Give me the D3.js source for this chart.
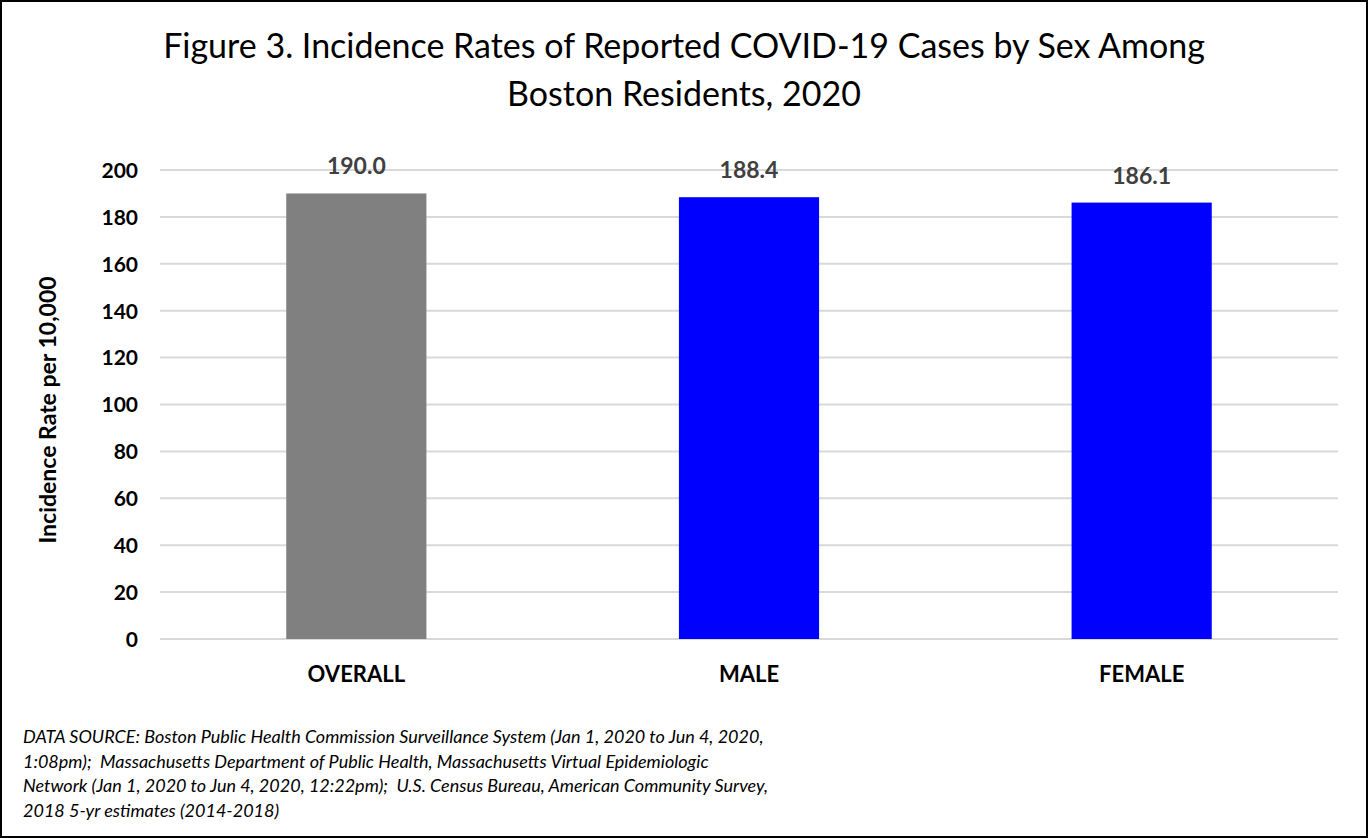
<!DOCTYPE html>
<html>
<head>
<meta charset="utf-8">
<script src="https://cdn.jsdelivr.net/npm/d3@7"></script>
<style>
  body { margin: 0; background: #fff; }
  svg { display: block; font-family: Lato, "Open Sans", sans-serif; }
</style>
</head>
<body>
<div id="chart"></div>
<script>
const width = 1368,
    height = 838;

// data
const categories = ["OVERALL", "MALE", "FEMALE"];
const rates = [190.0, 188.4, 186.1];
const barColors = ["#808080", "#0000ff", "#0000ff"];
const yTicks = [0, 20, 40, 60, 80, 100, 120, 140, 160, 180, 200];
const titleLines = ["Figure 3. Incidence Rates of Reported COVID-19 Cases by Sex Among", "Boston Residents, 2020"];
const sourceLines = [
    "DATA SOURCE: Boston Public Health Commission Surveillance System (Jan 1, 2020 to Jun 4, 2020,",
    "1:08pm);  Massachusetts Department of Public Health, Massachusetts Virtual Epidemiologic",
    "Network (Jan 1, 2020 to Jun 4, 2020, 12:22pm);  U.S. Census Bureau, American Community Survey,",
    "2018 5-yr estimates (2014-2018)"
];

const margin = { top: 170, right: 30, bottom: 199, left: 160 };

const svg = d3.select("#chart")
    .append("svg")
    .attr("width", width)
    .attr("height", height);

// outer frame
svg.append("rect")
    .attr("x", 1).attr("y", 1)
    .attr("width", width - 2).attr("height", height - 2)
    .style("fill", "#fff")
    .style("stroke", "#000")
    .style("stroke-width", 2);

const x = d3.scaleBand()
    .domain(categories)
    .range([margin.left, width - margin.right])
    .paddingInner(0.643)
    .paddingOuter(0.3215);

const y = d3.scaleLinear()
    .domain([0, 200])
    .range([height - margin.bottom, margin.top]);

// gridlines
svg.append("g")
    .selectAll("line")
    .data(yTicks)
    .enter()
    .append("line")
    .attr("x1", margin.left)
    .attr("x2", width - margin.right)
    .attr("y1", d => y(d))
    .attr("y2", d => y(d))
    .style("stroke", "#d9d9d9")
    .style("stroke-width", 2);

// y axis labels
const yAxis = d3.axisLeft(y).tickValues(yTicks).tickSize(0).tickPadding(0);
const yg = svg.append("g")
    .attr("transform", "translate(" + 138 + ",0)")
    .call(yAxis);
yg.select(".domain").remove();
yg.selectAll("text")
    .style("font-family", "Lato, sans-serif")
    .style("font-size", "21px")
    .style("font-weight", "bold")
    .style("fill", "#000")
    .attr("dy", "0.35em");

// bars
svg.append("g")
    .selectAll("rect")
    .data(rates)
    .enter()
    .append("rect")
    .attr("x", (d, i) => x(categories[i]))
    .attr("width", x.bandwidth())
    .attr("y", d => y(d))
    .attr("height", d => y(0) - y(d))
    .style("fill", (d, i) => barColors[i]);

// value labels
svg.append("g")
    .selectAll("text")
    .data(rates)
    .enter()
    .append("text")
    .attr("x", (d, i) => x(categories[i]) + x.bandwidth() / 2)
    .attr("y", d => y(d) - 19)
    .attr("text-anchor", "middle")
    .style("font-size", "23px")
    .style("font-weight", "bold")
    .style("fill", "#404040")
    .text(d => d.toFixed(1));

// x axis labels
const xAxis = d3.axisBottom(x).tickSize(0).tickPadding(0);
const xg = svg.append("g")
    .attr("transform", "translate(0," + 682 + ")")
    .call(xAxis);
xg.select(".domain").remove();
xg.selectAll("text")
    .attr("dy", 0)
    .style("font-family", "Lato, sans-serif")
    .style("font-size", "22px")
    .style("font-weight", "bold")
    .style("fill", "#000");

// y axis title
svg.append("text")
    .attr("transform", "translate(56," + 410 + ") rotate(-90)")
    .attr("text-anchor", "middle")
    .style("font-size", "23px")
    .style("font-weight", "bold")
    .style("fill", "#000")
    .text("Incidence Rate per 10,000");

// title
svg.append("g")
    .selectAll("text")
    .data(titleLines)
    .enter()
    .append("text")
    .attr("x", 684)
    .attr("y", (d, i) => 58 + i * 48)
    .attr("text-anchor", "middle")
    .style("font-size", "34px")
    .style("fill", "#000")
    .text(d => d);

// data source note
svg.append("g")
    .selectAll("text")
    .data(sourceLines)
    .enter()
    .append("text")
    .attr("x", 23)
    .attr("y", (d, i) => 743 + i * 24.7)
    .style("font-size", "18px")
    .style("font-style", "italic")
    .style("white-space", "pre")
    .style("fill", "#000")
    .text(d => d);
</script>
</body>
</html>
